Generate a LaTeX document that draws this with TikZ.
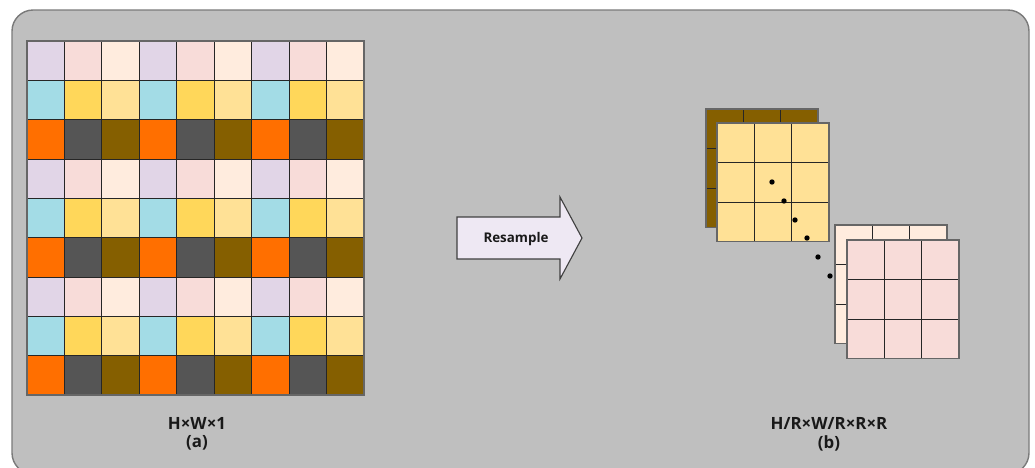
\documentclass[tikz,border=0pt]{standalone}
\usepackage{fontspec}
\setmainfont{Open Sans}
\definecolor{panelgray}{HTML}{BFBFBF}
\definecolor{panelline}{HTML}{7A7A7A}
\definecolor{arrowfill}{HTML}{EEE8F3}
% cell colours, row type by column type
\definecolor{tile0}{HTML}{E1D5E7}
\definecolor{tile1}{HTML}{F8DCD9}
\definecolor{tile2}{HTML}{FFECDE}
\definecolor{tile3}{HTML}{A3DCE6}
\definecolor{tile4}{HTML}{FFD75A}
\definecolor{tile5}{HTML}{FFE196}
\definecolor{tile6}{HTML}{FF6F00}
\definecolor{tile7}{HTML}{555555}
\definecolor{tile8}{HTML}{855F00}
\tikzset{
  cellline/.style={draw=black!85, line width=0.6pt},
  sqframe/.style={draw=black!60, line width=0.8pt},
  dimlabel/.style={font=\bfseries\fontsize{12}{14}\selectfont, text=black!90, inner sep=0pt},
}
% 3x3 square of a stack: top-left x, top-left y, fill colour
\newcommand{\tilegrid}[3]{%
  \fill[#3] (#1,#2) rectangle ++(112,118.5);
  \foreach \i in {1,2} {
    \draw[cellline] (#1+\i*37.33,#2) -- ++(0,118.5);
    \draw[cellline] (#1,#2+\i*39.5) -- ++(112,0);
  }
  \draw[sqframe] (#1,#2) rectangle ++(112,118.5);
}
\begin{document}
\begin{tikzpicture}[x=0.025cm, y=-0.025cm]
\useasboundingbox (0,0) rectangle (1035,468);
\draw [fill=panelgray, draw=panelline, line width=1pt, rounded corners=15] (12,10) rectangle (1029,474);

% (a) input map
\foreach \r in {0,...,8} {
  \foreach \c in {0,...,8} {
    \pgfmathtruncatemacro\k{mod(\r,3)*3+mod(\c,3)}
    \fill [tile\k] (27+\c*37.44,41+\r*39.33) rectangle ++(37.44,39.33);
    \draw [cellline] (27+\c*37.44,41+\r*39.33) rectangle ++(37.44,39.33);
  }
}
\draw [draw=black!60, line width=0.8pt] (27,41) rectangle (364,395);

% resample arrow
\draw [fill=arrowfill, draw=black!75, line width=0.8pt]
  (457,217) -- (560,217) -- (560,197) -- (582,238) -- (560,279) -- (560,259) -- (457,259) -- cycle;
\node [font=\bfseries\fontsize{9.5}{11}\selectfont, text=black!90] (resample) at (516,239) {Resample};

% (b) resampled stacks
\tilegrid{706}{109}{tile8}
\tilegrid{717}{123}{tile5}
\tilegrid{835}{225}{tile2}
\tilegrid{847}{240}{tile1}
\foreach \p in {(772,182),(784,201),(795,220),(807,238),(818,257),(830,276)}
  \fill [black] \p circle [radius=1.9pt];

\node [dimlabel] (sizea) at (197,423) {H×W×1};
\node [dimlabel] (capa) at (197,443) {(a)};
\node [dimlabel] (sizeb) at (829,423) {H/R×W/R×R×R};
\node [dimlabel] (capb) at (829,443) {(b)};
\end{tikzpicture}
\end{document}
